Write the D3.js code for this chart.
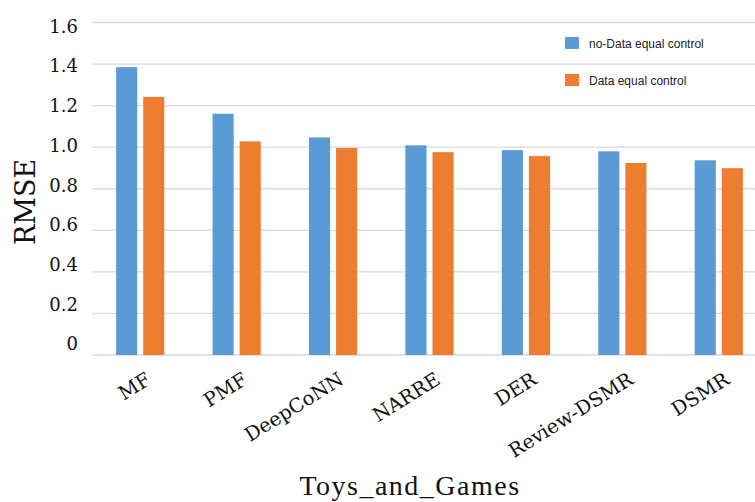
<!DOCTYPE html>
<html>
<head>
<meta charset="utf-8">
<script src="https://cdn.jsdelivr.net/npm/d3@7/dist/d3.min.js"></script>
<style>
  html, body { margin: 0; padding: 0; background: #fff; }
  svg { display: block; }
</style>
</head>
<body>
<div id="chart"></div>
<script>
// data
const categories = ['MF', 'PMF', 'DeepCoNN', 'NARRE', 'DER', 'Review-DSMR', 'DSMR'];
const seriesNames = ['no-Data equal control', 'Data equal control'];
const noDataEqual = [1.385, 1.161, 1.047, 1.009, 0.986, 0.980, 0.937];
const dataEqual = [1.242, 1.028, 0.996, 0.976, 0.957, 0.924, 0.899];
const yTicks = [0, 0.2, 0.4, 0.6, 0.8, 1.0, 1.2, 1.4, 1.6];
const colors = ['#5b9bd5', '#ed7d31'];

const width = 755, height = 502;

const svg = d3.select('#chart')
    .append('svg')
    .attr('width', width)
    .attr('height', height)
    .attr('viewBox', [0, 0, width, height]);

const x = d3.scaleBand()
    .domain(categories)
    .range([92, 767])
    .paddingInner(0.5)
    .paddingOuter(0.25);

const xs = d3.scaleBand()
    .domain(seriesNames)
    .range([0, x.bandwidth()])
    .paddingInner(0.22);

const y = d3.scaleLinear().domain([0, 1.6]).range([355, 22.5]);
// tick labels in the picture sit on a slightly tighter spacing than the grid
const yLab = d3.scaleLinear().domain([0, 1.6]).range([344, 26.5]);

// gridlines
svg.append('g')
    .selectAll('line')
    .data(yTicks)
    .join('line')
    .attr('x1', 92)
    .attr('x2', width)
    .attr('y1', d => y(d))
    .attr('y2', d => y(d))
    .attr('stroke', '#d9d9d9')
    .attr('stroke-width', 1.3);

// y tick labels
svg.append('g')
    .selectAll('text')
    .data(yTicks)
    .join('text')
    .attr('x', 78)
    .attr('y', d => yLab(d))
    .attr('dy', '0.35em')
    .attr('text-anchor', 'end')
    .attr('font-family', 'DejaVu Serif')
    .attr('font-size', 18)
    .attr('fill', '#111')
    .text(d => d === 0 ? '0' : d.toFixed(1));

// bars
const rows = categories.map((c, i) => ({ cat: c, vals: [noDataEqual[i], dataEqual[i]] }));

const groups = svg.append('g')
    .selectAll('g')
    .data(rows)
    .join('g')
    .attr('transform', d => `translate(${x(d.cat)},0)`);

groups.selectAll('rect')
    .data(d => d.vals.map((v, j) => ({ name: seriesNames[j], v, j })))
    .join('rect')
    .attr('x', d => xs(d.name))
    .attr('width', xs.bandwidth())
    .attr('y', d => y(d.v))
    .attr('height', d => y(0) - y(d.v))
    .attr('fill', d => colors[d.j]);

// x tick labels, rotated
svg.append('g')
    .selectAll('text')
    .data(categories)
    .join('text')
    .attr('transform', d => `translate(${x(d) + x.bandwidth() / 2 + 12},383) rotate(-32)`)
    .attr('text-anchor', 'end')
    .attr('font-family', 'DejaVu Serif')
    .attr('font-size', 19.5)
    .attr('fill', '#111')
    .text(d => d);

// axis titles
svg.append('text')
    .attr('transform', 'translate(35,202) rotate(-90)')
    .attr('text-anchor', 'middle')
    .attr('font-family', 'DejaVu Serif')
    .attr('font-size', 27)
    .attr('fill', '#111')
    .text('RMSE');

svg.append('text')
    .attr('x', 410)
    .attr('y', 495)
    .attr('text-anchor', 'middle')
    .attr('font-family', 'Liberation Serif')
    .attr('font-size', 28)
    .attr('letter-spacing', 1.5)
    .attr('fill', '#111')
    .text('Toys_and_Games');

// legend
const legend = svg.append('g')
    .selectAll('g')
    .data(seriesNames)
    .join('g')
    .attr('transform', (d, i) => `translate(565,${37 + i * 37})`);

legend.append('rect')
    .attr('width', 14)
    .attr('height', 12)
    .attr('fill', (d, i) => colors[i]);

legend.append('text')
    .attr('x', 24)
    .attr('y', 10.5)
    .attr('font-family', 'Liberation Sans')
    .attr('font-size', 12)
    .attr('fill', '#222')
    .text(d => d);
</script>
</body>
</html>
